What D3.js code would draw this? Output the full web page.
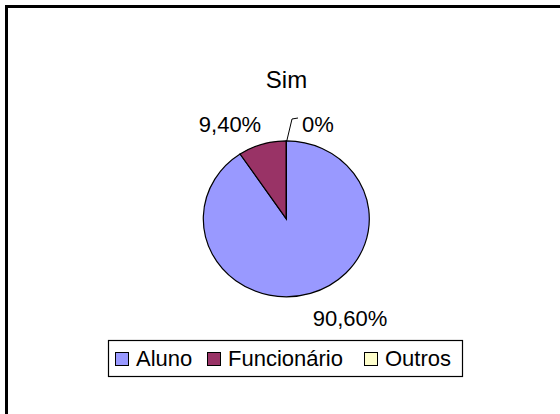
<!DOCTYPE html>
<html><head><meta charset="utf-8">
<script src="https://cdn.jsdelivr.net/npm/d3@7"></script>
<style>body{margin:0;background:#fff}svg{display:block;font-family:Arial,"Liberation Sans",sans-serif}</style>
</head><body>
<svg id="c" width="560" height="414"></svg>
<script>
const title = "Sim";
const categories = ["Aluno", "Funcionário", "Outros"];
const values = [90.6, 9.4, 0];
const valueLabels = ["90,60%", "9,40%", "0%"];
const colors = ["#9999FF", "#993366", "#FFFFCC"];

const svg = d3.select("#c");
svg.append("rect").attr("x",0).attr("y",0).attr("width",560).attr("height",414).attr("fill","#fff");
// outer frame (cropped at right/bottom)
svg.append("rect").attr("x",6.5).attr("y",6.5).attr("width",600).attr("height",500)
  .attr("fill","none").attr("stroke","#000").attr("stroke-width",3);

svg.append("text").attr("x",286.5).attr("y",88).attr("text-anchor","middle")
  .attr("font-size",24).attr("fill","#000").text(title);

const cx = 286.3, cy = 218.8, rx = 83, ry = 78;
const pie = d3.pie().sort(null).value(d => d)(values);
const arc = d3.arc().innerRadius(0).outerRadius(ry);
const g = svg.append("g").attr("transform",`translate(${cx},${cy}) scale(${rx/ry},1)`);
g.selectAll("path").data(pie).join("path")
  .attr("d", arc).attr("fill",(d,i)=>colors[i])
  .attr("stroke","#000").attr("stroke-width",1.2).attr("vector-effect","non-scaling-stroke");

// data labels
const lab = [
  {x:350, y:326, a:"middle"},
  {x:230, y:132, a:"middle"},
  {x:302, y:132, a:"start"}
];
svg.selectAll("text.lbl").data(valueLabels).join("text").attr("class","lbl")
  .attr("x",(d,i)=>lab[i].x).attr("y",(d,i)=>lab[i].y).attr("text-anchor",(d,i)=>lab[i].a)
  .attr("font-size",22).attr("fill","#000").text(d=>d);
// leader line for 0%
const topPt = [cx, cy - ry];
svg.append("path").attr("d",`M${topPt[0]+0.5},${topPt[1]} L${292},${119} L${298},${118}`)
  .attr("fill","none").attr("stroke","#000").attr("stroke-width",1);

// legend
const lg = svg.append("g");
lg.append("rect").attr("x",108.5).attr("y",340.5).attr("width",354).attr("height",36)
  .attr("fill","#fff").attr("stroke","#000").attr("stroke-width",1.2);
const itemX = [115, 207, 364];
categories.forEach((c,i)=>{
  lg.append("rect").attr("x",itemX[i]+0.5).attr("y",352.5).attr("width",13).attr("height",13)
    .attr("fill",colors[i]).attr("stroke","#000").attr("stroke-width",1);
  lg.append("text").attr("x",itemX[i]+21).attr("y",366).attr("font-size",22).attr("fill","#000").text(c);
});
</script>
</body></html>
